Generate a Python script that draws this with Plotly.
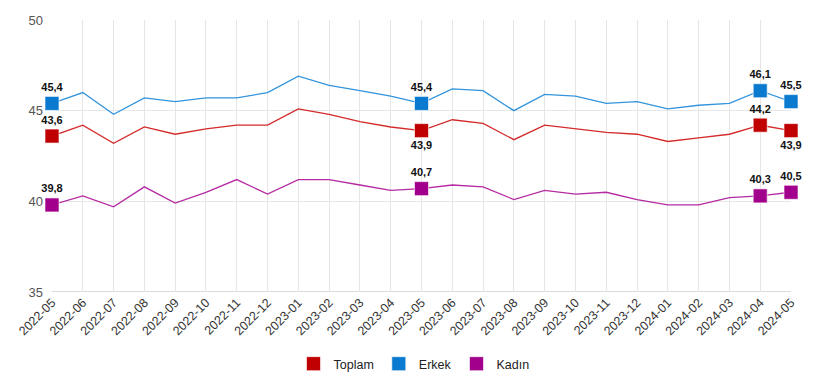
import plotly.graph_objects as go

months = ["2022-05","2022-06","2022-07","2022-08","2022-09","2022-10","2022-11","2022-12",
          "2023-01","2023-02","2023-03","2023-04","2023-05","2023-06","2023-07","2023-08",
          "2023-09","2023-10","2023-11","2023-12","2024-01","2024-02","2024-03","2024-04","2024-05"]

toplam = [43.6,44.2,43.2,44.1,43.7,44.0,44.2,44.2,45.1,44.8,44.4,44.1,43.9,44.5,44.3,43.4,
          44.2,44.0,43.8,43.7,43.3,43.5,43.7,44.2,43.9]
erkek = [45.4,46.0,44.8,45.7,45.5,45.7,45.7,46.0,46.9,46.4,46.1,45.8,45.4,46.2,46.1,45.0,
         45.9,45.8,45.4,45.5,45.1,45.3,45.4,46.1,45.5]
kadin = [39.8,40.3,39.7,40.8,39.9,40.5,41.2,40.4,41.2,41.2,40.9,40.6,40.7,40.9,40.8,40.1,
         40.6,40.4,40.5,40.1,39.8,39.8,40.2,40.3,40.5]

highlight = [0, 12, 23, 24]
yticks = [35, 40, 45, 50]

series = [
    ("Toplam", toplam, "#c00000", "#d42a2a", ["top center", "bottom center", "top center", "bottom center"]),
    ("Erkek", erkek, "#0a7ad0", "#3394dc", ["top center"] * 4),
    ("Kadın", kadin, "#a2008c", "#b52aa2", ["top center"] * 4),
]

fig = go.Figure()
for name, vals, col, lcol, pos in series:
    fig.add_trace(go.Scatter(x=months, y=vals, mode="lines", line=dict(color=lcol, width=1.3),
                             showlegend=False, hoverinfo="skip"))
for name, vals, col, lcol, pos in series:
    xs = [months[i] for i in highlight]
    ys = [vals[i] for i in highlight]
    txt = [f"<b>{v:.1f}</b>".replace(".", ",") for v in ys]
    fig.add_trace(go.Scatter(x=xs, y=ys, mode="markers+text", text=txt, textposition=pos,
                             textfont=dict(family="Liberation Sans, Arial", size=11, color="#111"),
                             marker=dict(symbol="square", size=14, color=col,
                                         line=dict(color="rgba(255,255,255,0.6)", width=1)),
                             cliponaxis=False, showlegend=False))
for name, vals, col, lcol, pos in series:
    fig.add_trace(go.Scatter(x=[None], y=[None], mode="markers", name=name,
                             marker=dict(symbol="square", size=14, color=col,
                                         line=dict(color="rgba(255,255,255,0.6)", width=1))))

fig.update_layout(
    width=812, height=380,
    margin=dict(l=44, r=29, t=12, b=96),
    plot_bgcolor="white", paper_bgcolor="white",
    font=dict(family="Liberation Sans, Arial", size=12, color="#444"),
    legend=dict(orientation="h", x=0.5, xanchor="center", xref="container",
                y=0.063, yanchor="middle", yref="container",
                font=dict(size=12.5, color="#222"), itemwidth=30, tracegroupgap=0),
    xaxis=dict(type="category", range=[0, len(months) - 1], showgrid=True, gridcolor="#e6e6e6",
               tickangle=-45, tickfont=dict(size=12.5, color="#333"), ticks="", zeroline=False,
               showline=False, automargin=False),
    yaxis=dict(range=[35, 50], tickvals=yticks, showgrid=True, gridcolor="#e6e6e6",
               tickfont=dict(size=13, color="#555"), zeroline=False, showline=False,
               ticklabelstandoff=8, automargin=False),
)
fig.add_shape(type="line", xref="paper", yref="y", x0=0, x1=1, y0=35, y1=35,
              line=dict(color="#dadada", width=2), layer="below")

fig.write_html("out.html")
